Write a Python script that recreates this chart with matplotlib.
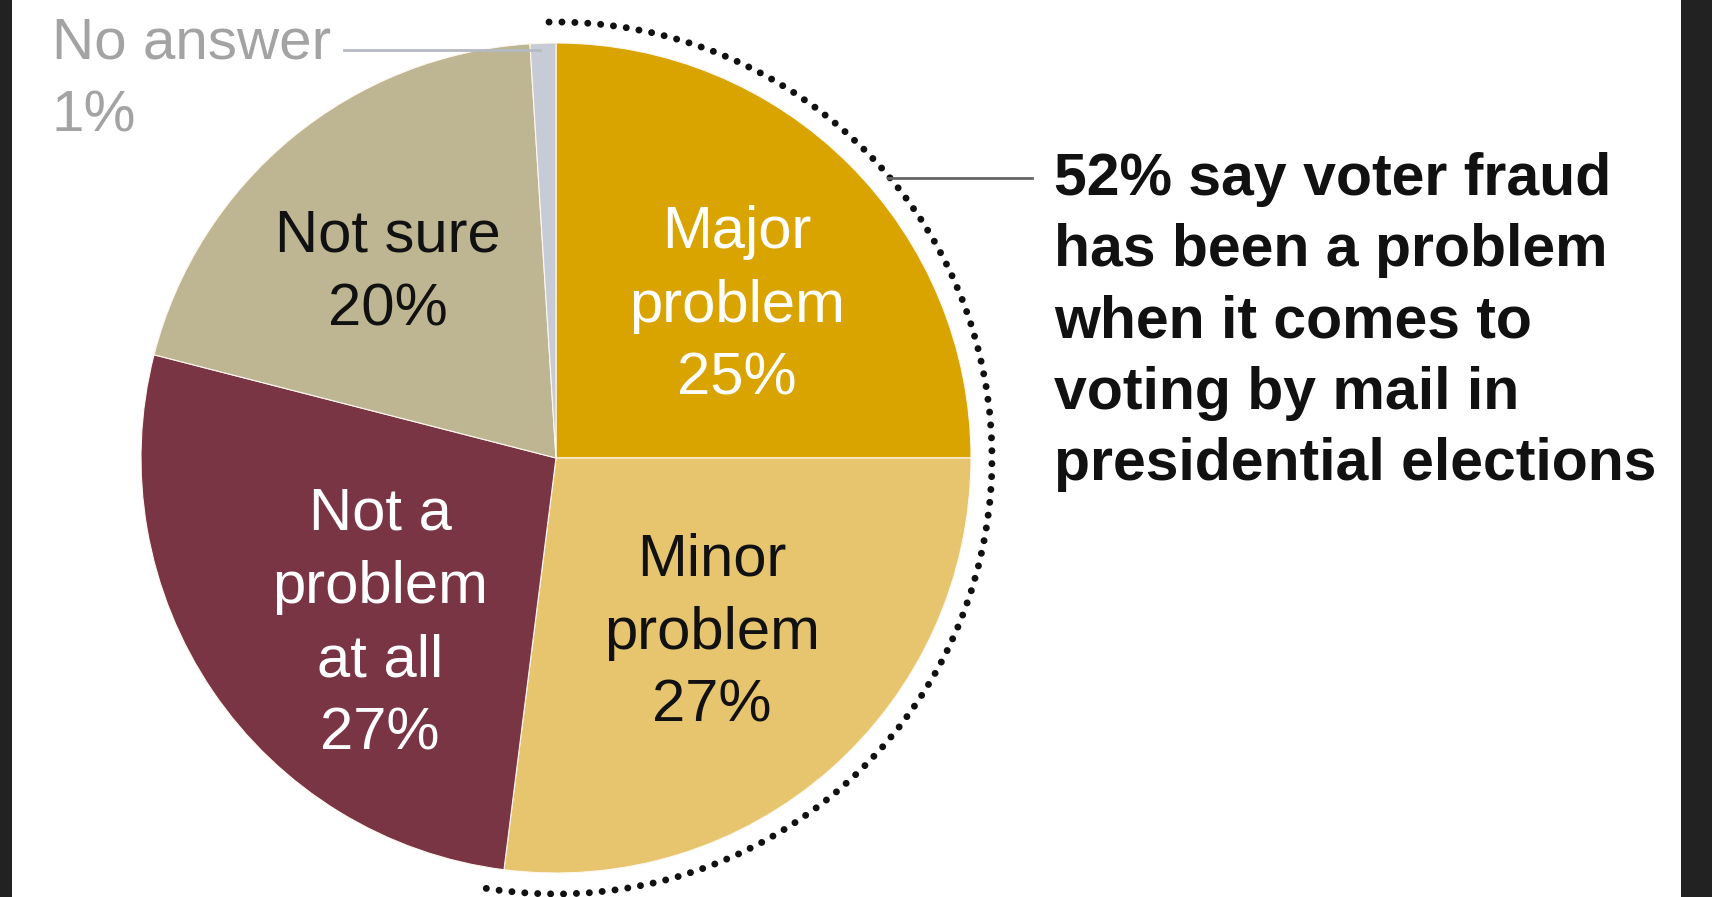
import matplotlib
matplotlib.use("Agg")
import matplotlib.pyplot as plt
from matplotlib.patches import Arc, Rectangle

# Survey shares (percent), drawn clockwise from 12 o'clock
categories = ["Major problem", "Minor problem", "Not a problem at all", "Not sure", "No answer"]
shares = [25, 27, 27, 20, 1]
colors = ["#D9A300", "#E7C56F", "#7A3545", "#BEB592", "#C6CBD6"]

label_texts = ["Major\nproblem\n25%", "Minor\nproblem\n27%", "Not a\nproblem\nat all\n27%", "Not sure\n20%"]
label_colors = ["white", "#111111", "white", "#111111"]
label_xy = [(737, 306), (712, 633), (380, 624), (388, 273)]

callout = "52% say voter fraud\nhas been a problem\nwhen it comes to\nvoting by mail in\npresidential elections"

W, H = 1712, 897
fig = plt.figure(figsize=(W / 100, H / 100), dpi=100)
fig.patch.set_facecolor("white")
ax = fig.add_axes([0, 0, 1, 1])

def Y(y):
    return H - y

cx, cy, r = 556, 458, 415

ax.pie(shares, colors=colors, startangle=90, counterclock=False,
       center=(cx, Y(cy)), radius=r,
       wedgeprops=dict(edgecolor="#FFF8F0", linewidth=0.8))
ax.set_xlim(0, W)
ax.set_ylim(0, H)
ax.set_aspect("auto")
ax.axis("off")

# Dotted ring around the "major + minor" share
problem_share = shares[0] + shares[1]
end_angle = 90 - 360 * problem_share / 100
ring_r = r + 21
ax.add_patch(Arc((cx, Y(cy)), 2 * ring_r, 2 * ring_r, theta1=end_angle - 2, theta2=91,
                 color="#111111", linewidth=5.0, linestyle=(0, (0.01, 1.85)),
                 capstyle="round"))

# In-slice labels
for txt, col, (x, y) in zip(label_texts, label_colors, label_xy):
    ax.text(x, Y(y), txt, ha="center", va="center", color=col,
            fontsize=43, family="Liberation Sans", linespacing=1.42)

# "No answer" label with leader line
ax.text(52, Y(80), "No answer\n1%", ha="left", va="center", color="#A3A3A3",
        fontsize=42, family="Liberation Sans", linespacing=1.45)
ax.plot([344, 540], [Y(50), Y(50)], color="#B5B9C2", linewidth=2)

# Callout for the combined share
ax.plot([888, 1032], [Y(178), Y(178)], color="#666666", linewidth=2)
ax.text(1054, Y(322), callout, ha="left", va="center", color="#111111",
        fontsize=42.5, fontweight="bold", family="Liberation Sans", linespacing=1.38)

# Dark side borders
fig.patches.append(Rectangle((0, 0), 12 / W, 1, transform=fig.transFigure,
                             facecolor="#222222", edgecolor="none", zorder=10))
fig.patches.append(Rectangle((1681 / W, 0), 1 - 1681 / W, 1, transform=fig.transFigure,
                             facecolor="#222222", edgecolor="none", zorder=10))

fig.savefig("out.png", dpi=100, facecolor="white")
